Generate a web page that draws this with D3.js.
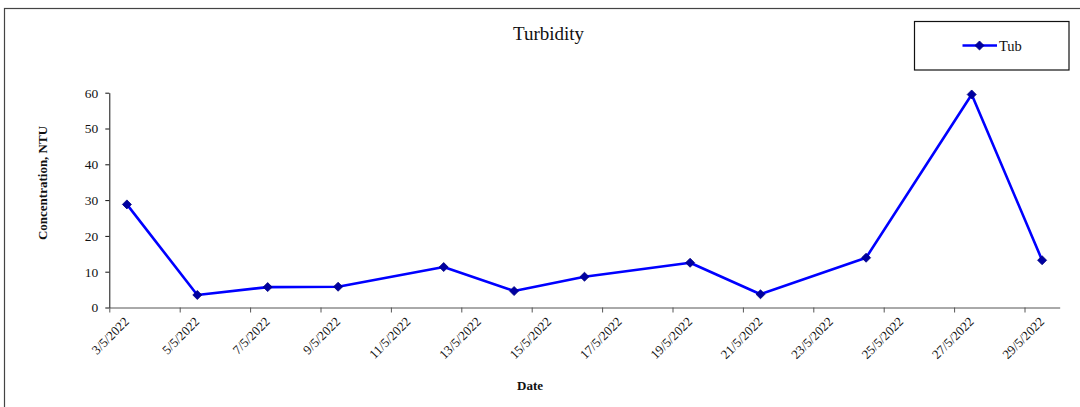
<!DOCTYPE html>
<html>
<head>
<meta charset="utf-8">
<script src="https://cdn.jsdelivr.net/npm/d3@7"></script>
<style>
  html, body { margin: 0; padding: 0; background: #fff; }
  svg { display: block; font-family: "Liberation Serif", "Times New Roman", serif; }
</style>
</head>
<body>
<svg id="chart" width="1080" height="407"></svg>
<script>
// ---- data ----
const dates = ["2022-05-03","2022-05-05","2022-05-07","2022-05-09","2022-05-12","2022-05-14",
               "2022-05-16","2022-05-19","2022-05-21","2022-05-24","2022-05-27","2022-05-29"];
const tubValues = [28.8, 3.5, 5.7, 5.8, 11.3, 4.6, 8.6, 12.5, 3.7, 13.9, 59.5, 13.2];
const yTicks = [0, 10, 20, 30, 40, 50, 60];
const xTickDates = ["2022-05-03","2022-05-05","2022-05-07","2022-05-09","2022-05-11","2022-05-13",
                    "2022-05-15","2022-05-17","2022-05-19","2022-05-21","2022-05-23","2022-05-25",
                    "2022-05-27","2022-05-29"];
const xDomain = ["2022-05-03", "2022-05-30"];
const seriesName = "Tub";
const titleText = "Turbidity";
const xLabel = "Date";
const yLabel = "Concentration, NTU";

const parse = d3.utcParse("%Y-%m-%d");
const fmt = d3.utcFormat("%-d/%-m/%Y");
const data = dates.map((d, i) => ({ date: parse(d), value: tubValues[i] }));

const svg = d3.select("#chart");

// outer border
svg.append("rect")
  .attr("x", 4.5).attr("y", 8.5).attr("width", 1100).attr("height", 420)
  .attr("fill", "none").attr("stroke", "#444").attr("stroke-width", 1.2);

const x = d3.scaleUtc().domain(xDomain.map(parse)).range([109.3, 1059.7]);
const y = d3.scaleLinear().domain([0, 60]).range([307.5, 92.7]);
const halfDay = 12 * 3600 * 1000;

// y axis
const yAxis = svg.append("g")
  .attr("transform", "translate(109.3,0)")
  .call(d3.axisLeft(y).tickValues(yTicks).tickSize(4).tickPadding(7).tickSizeOuter(0));
yAxis.select(".domain").attr("stroke", "#111");
yAxis.selectAll(".tick line").attr("stroke", "#111");
yAxis.selectAll("text").attr("font-size", 13.5).attr("fill", "#111")
  .attr("font-family", "Liberation Serif");

// x axis
const xAxis = svg.append("g")
  .attr("transform", "translate(0,307.5)")
  .call(d3.axisBottom(x).tickValues(xTickDates.map(parse)).tickFormat(fmt)
        .tickSize(5).tickSizeOuter(0));
xAxis.select(".domain").attr("stroke", "#555");
xAxis.selectAll(".tick line").attr("stroke", "#555");
xAxis.selectAll("text")
  .attr("font-size", 13).attr("fill", "#111").attr("font-family", "Liberation Serif")
  .attr("text-anchor", "end")
  .attr("dy", null).attr("y", null)
  .attr("transform", "translate(20,15) rotate(-45)");

// line
const line = d3.line().x(d => x(new Date(+d.date + halfDay))).y(d => y(d.value));
svg.append("path").datum(data)
  .attr("d", line).attr("fill", "none").attr("stroke", "#0000FF").attr("stroke-width", 2.6)
  .attr("stroke-linejoin", "round");

// markers
const diamond = d3.symbol().type(d3.symbolDiamond2).size(52);
svg.selectAll(".pt").data(data).join("path")
  .attr("class", "pt")
  .attr("transform", d => `translate(${x(new Date(+d.date + halfDay))},${y(d.value)})`)
  .attr("d", diamond)
  .attr("fill", "#0000A0").attr("stroke", "#000080").attr("stroke-width", 0.8);

// title
svg.append("text").attr("x", 548.5).attr("y", 39.5).attr("text-anchor", "middle")
  .attr("font-size", 19).attr("fill", "#111").text(titleText);

// axis titles
svg.append("text").attr("x", 530).attr("y", 390).attr("text-anchor", "middle")
  .attr("font-size", 13).attr("font-weight", "bold").attr("fill", "#111").text(xLabel);
svg.append("text").attr("transform", "translate(47,183) rotate(-90)")
  .attr("text-anchor", "middle").attr("font-size", 13).attr("font-weight", "bold")
  .attr("fill", "#111").text(yLabel);

// legend
const lg = svg.append("g");
lg.append("rect").attr("x", 914.5).attr("y", 21.5).attr("width", 154.5).attr("height", 48.5)
  .attr("fill", "#fff").attr("stroke", "#111").attr("stroke-width", 1.2);
lg.append("line").attr("x1", 962.5).attr("x2", 997).attr("y1", 45.5).attr("y2", 45.5)
  .attr("stroke", "#0000FF").attr("stroke-width", 2.6);
lg.append("path").attr("transform", "translate(979.5,45.5)").attr("d", diamond)
  .attr("fill", "#0000A0").attr("stroke", "#000080").attr("stroke-width", 0.8);
lg.append("text").attr("x", 999).attr("y", 50.5).attr("font-size", 14.5).attr("fill", "#111")
  .text(seriesName);
</script>
</body>
</html>
